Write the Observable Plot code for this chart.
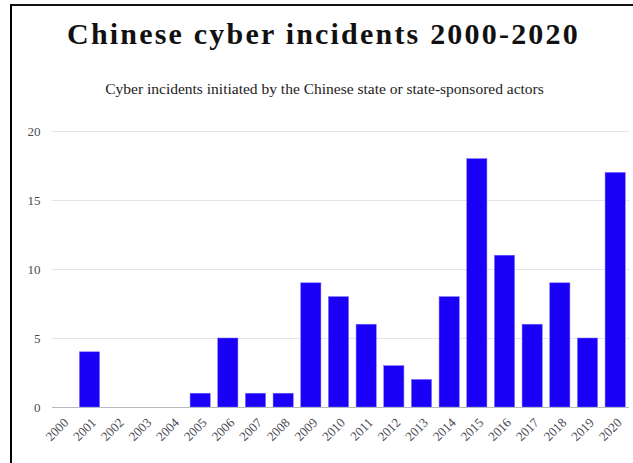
<!DOCTYPE html>
<html>
<head>
<meta charset="utf-8">
<script src="https://cdn.jsdelivr.net/npm/d3@7"></script>
<script src="https://cdn.jsdelivr.net/npm/@observablehq/plot@0.6"></script>
<style>
  html, body { margin: 0; padding: 0; background: #fff; }
  #wrap { position: relative; width: 633px; height: 463px; overflow: hidden; }
  #frame { position: absolute; left: 10px; top: 4px; width: 640px; height: 480px;
           border-left: 2.5px solid #000; border-top: 2px solid #111; box-sizing: border-box; }
  #title { position: absolute; left: 7px; width: 633px; top: 17px; text-align: center;
           font-family: "Liberation Serif", serif; font-weight: bold; font-size: 30px;
           letter-spacing: 2.2px; color: #111; }
  #subtitle { position: absolute; left: 8px; width: 633px; top: 80px; text-align: center;
              font-family: "Liberation Serif", serif; font-size: 15.5px; color: #222; }
  #chart { position: absolute; left: 0; top: 110px; }
</style>
</head>
<body>
<div id="wrap">
  <div id="frame"></div>
  <div id="title">Chinese cyber incidents 2000-2020</div>
  <div id="subtitle">Cyber incidents initiated by the Chinese state or state-sponsored actors</div>
  <div id="chart"></div>
</div>
<script>
const years = ["2000","2001","2002","2003","2004","2005","2006","2007","2008","2009","2010",
               "2011","2012","2013","2014","2015","2016","2017","2018","2019","2020"];
const incidents = [0,4,0,0,0,1,5,1,1,9,8,6,3,2,8,18,11,6,9,5,17];
const yTicks = [0,5,10,15,20];

const data = years.map((y, i) => ({year: y, count: incidents[i]}));

const chart = Plot.plot({
  width: 633,
  height: 353,
  marginTop: 21,
  marginBottom: 56,
  marginLeft: 48,
  marginRight: 4,
  style: {fontFamily: "Liberation Serif, serif", fontSize: "13px", color: "#4a4a55", background: "transparent"},
  x: {domain: years, round: false, paddingInner: 0.27, paddingOuter: 0.135, label: null},
  y: {domain: [0, 20], label: null},
  marks: [
    Plot.gridY(yTicks.filter(d => d > 0), {stroke: "#e3e5e8", strokeOpacity: 1, insetLeft: 4}),
    Plot.axisY(yTicks, {tickSize: 0, tickPadding: 8, label: null}),
    Plot.axisX(years, {tickRotate: -45, tickSize: 0, tickPadding: 13, dx: 4, label: null}),
    Plot.barY(data, {x: "year", y: "count", fill: "#1a00f7", stroke: "#7a70ff", strokeWidth: 0.5}),
    Plot.ruleY([0], {stroke: "#b4bac2", insetLeft: 4})
  ]
});
document.getElementById("chart").appendChild(chart);
</script>
</body>
</html>
